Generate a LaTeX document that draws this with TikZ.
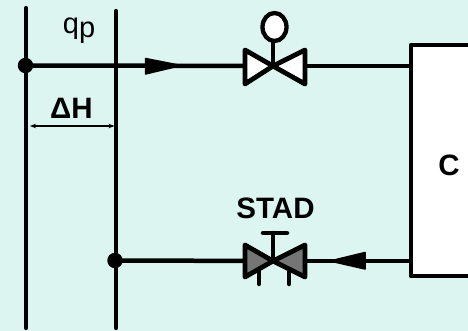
\documentclass[tikz,border=0pt]{standalone}
\usepackage{fontspec}
\setmainfont{Liberation Sans}
\usetikzlibrary{arrows.meta,shapes.geometric}
\definecolor{bgc}{HTML}{DDF5F0}
\definecolor{vgrey}{HTML}{757575}
\tikzset{
  pipe/.style={line width=4.3pt,line cap=round,line join=round},
  conn/.style={line width=4.5pt},
  valve/.style={line width=4.8pt,line join=round,draw=black},
  dotn/.style={circle,fill=black,inner sep=0pt,minimum size=15.5pt},
  lab/.style={inner sep=0pt,font=\fontsize{29.5}{31}\selectfont\bfseries},
  flow/.style={fill=black,draw=black,line width=1.5pt,line join=round},
  dimline/.style={line width=1.3pt,{Stealth[length=6pt,width=4.5pt]}-{Stealth[length=6pt,width=4.5pt]}}
}
\begin{document}
\begin{tikzpicture}[x=1pt,y=-1pt]
\useasboundingbox (0,0) rectangle (468,331);
\fill[bgc] (0,0) rectangle (468,331);
% key points
\coordinate (ltop) at (26,8);
\coordinate (lbot) at (26,328);
\coordinate (rtop) at (116,11);
\coordinate (rbot) at (116,328);
\coordinate (v1) at (273,66);
\coordinate (v2) at (273,261);
\coordinate (boxW1) at (411,66);
\coordinate (boxW2) at (411,261);
% plant box
\filldraw[fill=white,draw=black,line width=4.6pt,line join=round] (472,45) -- (411,45) -- (411,276) -- (472,276);
\node[lab] (cc) at (449,165) {C};
% headers
\draw[pipe] (ltop) -- (lbot);
\draw[pipe] (rtop) -- (rbot);
\node[dotn] (d1) at (25.5,65.5) {};
\node[dotn] (d2) at (115,260.5) {};
% pipes
\draw[conn] (d1.center) -- (v1);
\draw[conn] (v1) -- (boxW1);
\draw[conn] (d2.center) -- (v2);
\draw[conn] (v2) -- (boxW2);
% flow arrows
\filldraw[flow] (145.5,58.5) -- (181,65.5) -- (145.5,74) -- cycle;
\filldraw[flow] (365,252.5) -- (330,261) -- (365,269) -- cycle;
% valve 1
\draw[conn] (v1) -- (273,40);
\node[draw=black,line width=4.3pt,fill=white,ellipse,inner sep=0pt,minimum width=24pt,minimum height=28pt] (hand) at (274.5,27) {};
\filldraw[valve,fill=white] (245,50) -- (v1) -- (245,84) -- cycle;
\filldraw[valve,fill=white] (305,50) -- (v1) -- (305,84) -- cycle;
% valve 2
\draw[conn,line cap=round] (v2) -- (273,233);
\draw[conn,line cap=round] (263,233) -- (287,233);
\draw[conn,line cap=round] (259,268) -- (259,284);
\draw[conn,line cap=round] (289,268) -- (289,284);
\filldraw[valve,fill=vgrey] (245,245) -- (v2) -- (245,277) -- cycle;
\filldraw[valve,fill=vgrey] (305,245) -- (v2) -- (305,277) -- cycle;
% dimension
\coordinate (dl) at (30,126);
\coordinate (dr) at (114.5,126);
\draw[dimline] (dl) -- (dr);
% labels
\node[lab] (dh) at (71.5,108.5) {ΔH};
\node[lab] (st) at (275.5,208) {STAD};
\node[inner sep=0pt,font=\fontsize{29}{31}\selectfont,anchor=base] (qp) at (79,34) {q\raisebox{-4pt}{p}};
\end{tikzpicture}
\end{document}
